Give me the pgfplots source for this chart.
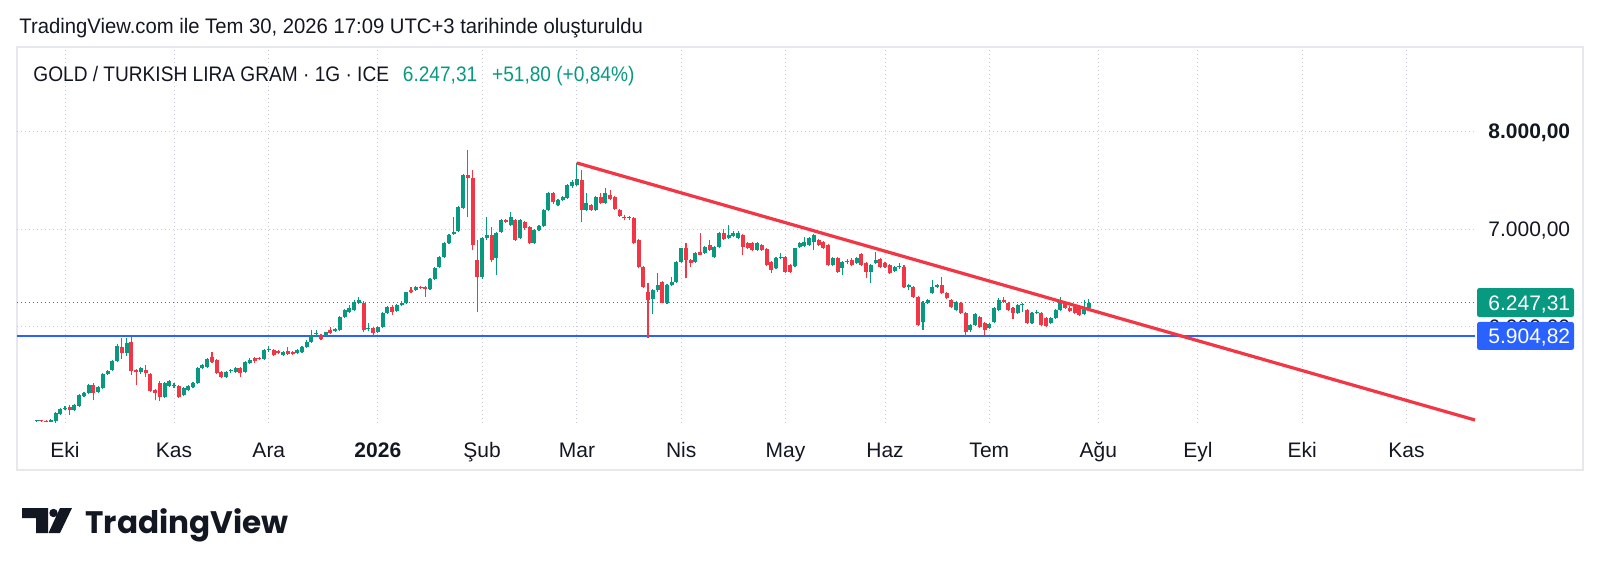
\documentclass[border=0pt]{standalone}
\usepackage{fontspec}
\setmainfont{Liberation Sans}
\newfontfamily\hdfont{Liberation Sans}[FakeStretch=0.91]
\newfontfamily\ttlfont{Liberation Sans}[FakeStretch=0.965]
\newfontfamily\logofont{Poppins}
\usepackage{pgfplots}
\pgfplotsset{compat=1.18}
\usepackage{pgfplotstable}
\definecolor{tvgreen}{HTML}{089981}
\definecolor{tvred}{HTML}{F23645}
\definecolor{tvblue}{HTML}{2962FF}
\definecolor{tvtext}{HTML}{131722}
\definecolor{tvgrid}{HTML}{C8CBD3}
\definecolor{tvborder}{HTML}{E6E8EE}

% i = trading-day index (0 = 1 Oct 2025), o h l c in TRY per gram
\pgfplotstableread{
i o h l c
-6 5035 5045 5028 5040
-5 5040 5048 5025 5030
-4 5030 5040 5022 5028
-3 5028 5050 5020 5040
-2 5030 5125 5015 5116
-1 5110 5170 5100 5157
0 5160 5190 5150 5167
1 5177 5195 5096 5147
2 5147 5210 5140 5198
3 5187 5310 5180 5300
4 5290 5335 5280 5320
5 5320 5410 5310 5403
6 5403 5420 5249 5320
7 5331 5395 5320 5382
8 5372 5525 5360 5515
9 5515 5560 5505 5546
10 5556 5660 5545 5648
11 5648 5820 5640 5802
12 5792 5884 5669 5730
13 5730 5884 5700 5832
14 5843 5894 5505 5546
15 5556 5570 5403 5536
16 5536 5590 5520 5577
17 5556 5607 5484 5525
18 5515 5530 5330 5341
19 5351 5360 5249 5320
20 5423 5440 5239 5280
21 5280 5435 5270 5423
22 5392 5455 5385 5443
23 5392 5420 5370 5396
24 5392 5400 5270 5280
25 5300 5380 5290 5372
26 5351 5400 5340 5392
27 5382 5435 5370 5423
28 5423 5590 5410 5577
29 5577 5620 5570 5607
30 5587 5675 5580 5669
31 5690 5741 5630 5638
32 5659 5665 5515 5525
33 5536 5545 5470 5484
34 5484 5545 5475 5536
35 5546 5570 5530 5550
36 5536 5585 5525 5577
37 5577 5585 5484 5525
38 5536 5645 5525 5638
39 5628 5675 5620 5659
40 5679 5690 5630 5648
41 5679 5690 5660 5669
42 5669 5770 5660 5761
43 5765 5802 5740 5772
44 5761 5775 5700 5710
45 5751 5760 5720 5730
46 5710 5750 5700 5741
47 5751 5792 5710 5720
48 5741 5750 5710 5720
49 5730 5770 5720 5761
50 5741 5800 5730 5792
51 5792 5860 5780 5843
52 5843 5966 5835 5904
53 5930 5966 5890 5935
54 5915 5925 5860 5874
55 5904 5950 5895 5945
56 5966 5996 5925 5935
57 5955 5990 5950 5976
58 5966 6110 5955 6099
59 6099 6180 6090 6171
60 6150 6222 6140 6191
61 6171 6273 6160 6252
62 6242 6300 6230 6273
63 6242 6262 5950 5966
64 5975 6037 5955 5990
65 5986 6000 5894 5935
66 5945 6005 5935 5996
67 5996 6150 5986 6140
68 6140 6210 6130 6201
69 6201 6222 6119 6150
70 6160 6235 6150 6222
71 6222 6260 6210 6242
72 6242 6360 6235 6355
73 6375 6406 6345 6355
74 6375 6415 6365 6406
75 6406 6420 6390 6400
76 6406 6420 6304 6386
77 6386 6495 6380 6488
78 6488 6610 6480 6601
79 6611 6720 6600 6713
80 6713 6865 6705 6857
81 6857 6945 6850 6939
82 6949 7123 6940 6969
83 6980 7235 6970 7225
84 7215 7560 7205 7553
85 7553 7809 7123 7522
86 7522 7604 6785 6836
87 6683 6887 6150 6508
88 6508 6920 6490 6908
89 6908 7123 6890 6939
90 6939 7020 6662 6683
91 6703 6970 6529 6959
92 6969 7100 6960 7092
93 7092 7105 7060 7072
94 7041 7174 7030 7123
95 7092 7100 6880 6887
96 6908 7100 6900 7092
97 7072 7085 6990 7010
98 7020 7030 6850 6857
99 6857 6995 6845 6990
100 6990 7040 6980 7031
101 7031 7200 7020 7195
102 7195 7380 7185 7369
103 7369 7380 7260 7276
104 7246 7310 7235 7297
105 7297 7340 7290 7328
106 7317 7460 7310 7451
107 7440 7500 7420 7481
108 7451 7676 7440 7512
109 7502 7604 7072 7195
110 7195 7369 7180 7266
111 7246 7260 7185 7195
112 7195 7340 7185 7328
113 7328 7369 7260 7266
114 7266 7420 7255 7369
115 7348 7399 7300 7307
116 7328 7340 7195 7205
117 7195 7205 7125 7133
118 7115 7140 7090 7110
119 7113 7135 7090 7118
120 7113 7125 6850 6857
121 6887 6900 6600 6611
122 6611 6625 6396 6406
123 6355 6447 5884 6273
124 6283 6385 6130 6375
125 6375 6549 6360 6427
126 6457 6470 6240 6242
127 6242 6440 6230 6427
128 6427 6508 6415 6457
129 6457 6670 6445 6662
130 6662 6810 6650 6805
131 6805 6857 6498 6683
132 6683 6695 6611 6652
133 6662 6760 6650 6754
134 6764 6959 6730 6734
135 6754 6825 6745 6816
136 6836 6887 6775 6785
137 6713 6830 6700 6816
138 6816 6965 6805 6959
139 6959 7000 6890 6898
140 6908 7041 6900 6939
141 6928 6980 6915 6959
142 6908 6975 6895 6959
143 6939 6950 6734 6816
144 6857 6870 6795 6805
145 6857 6870 6770 6785
146 6785 6870 6775 6857
147 6836 6850 6775 6785
148 6795 6805 6620 6631
149 6662 6675 6549 6580
150 6601 6710 6590 6703
151 6703 6754 6690 6713
152 6713 6725 6549 6560
153 6631 6640 6550 6560
154 6621 6810 6610 6805
155 6816 6865 6810 6857
156 6826 6918 6820 6867
157 6836 6920 6830 6908
158 6867 6945 6785 6939
159 6887 6900 6830 6836
160 6867 6880 6800 6805
161 6836 6845 6620 6631
162 6631 6710 6620 6703
163 6703 6715 6550 6560
164 6601 6675 6529 6662
165 6662 6690 6640 6665
166 6683 6700 6620 6631
167 6652 6710 6640 6703
168 6744 6754 6620 6631
169 6652 6665 6498 6560
170 6560 6640 6447 6631
171 6652 6764 6640 6683
172 6693 6705 6600 6611
173 6652 6665 6600 6611
174 6631 6645 6540 6549
175 6570 6625 6560 6611
176 6611 6650 6590 6621
177 6611 6630 6400 6406
178 6406 6440 6380 6427
179 6406 6416 6295 6304
180 6304 6315 6010 6017
181 6048 6260 5966 6242
182 6242 6285 6235 6273
183 6345 6478 6335 6406
184 6406 6440 6400 6427
185 6427 6508 6335 6345
186 6345 6355 6285 6293
187 6273 6285 6195 6201
188 6171 6262 6160 6252
189 6242 6250 6130 6140
190 6140 6150 5904 5945
191 5966 6025 5950 6017
192 6017 6135 6010 6129
193 6099 6110 5990 5996
194 6037 6045 5915 5966
195 5990 6040 5980 6027
196 6048 6200 6040 6191
197 6171 6290 6160 6273
198 6273 6304 6240 6252
199 6242 6255 6165 6171
200 6191 6200 6080 6140
201 6140 6235 6130 6222
202 6222 6240 6150 6225
203 6171 6180 6030 6037
204 6037 6150 6025 6140
205 6140 6170 6125 6150
206 6140 6150 6005 6017
207 6089 6095 5995 6007
208 6037 6095 6025 6089
209 6089 6180 6080 6171
210 6171 6300 6160 6273
211 6242 6255 6180 6191
212 6191 6215 6150 6160
213 6201 6215 6130 6140
214 6191 6205 6110 6119
215 6130 6270 6120 6195.51
216 6195.51 6283 6170 6247.31
}\candles

\pgfplotsset{candle/.style={only marks, mark=*, mark size=0pt,
  mark options={draw=none, fill=none}, forget plot}}

\begin{document}
\begin{tikzpicture}
\useasboundingbox (0,0) rectangle (800pt,-286.5pt);
\fill[white] (0,0) rectangle (800pt,-286.5pt);
\draw[tvborder, line width=0.6pt] (8.5pt,-23.5pt) rectangle (791.5pt,-235pt);
\begin{axis}[
  at={(8.5pt,-23.5pt)}, anchor=north west,
  scale only axis, width=729pt, height=188pt,
  xmin=-10.13, xmax=297.47, ymin=5013.5, ymax=8863.7,
  axis line style={draw=none},
  major tick length=0pt,
  xtick={0,23,43,66,88,108,130,152,173,195,218,239,261,283},
  xticklabels={Eki,Kas,Ara,\textbf{2026},Şub,Mar,Nis,May,Haz,Tem,Ağu,Eyl,Eki,Kas},
  xticklabel style={anchor=base, yshift=-17pt, inner sep=0pt},
  ytick={6000,7000,8000},
  yticklabels={{6.000,00},{7.000,00},{\textbf{8.000,00}}},
  yticklabel pos=right,
  yticklabel style={anchor=base west, xshift=6.5pt, yshift=-3.75pt, inner sep=0pt},
  tick label style={font=\fontsize{10.5pt}{12pt}\selectfont, text=tvtext},
  grid=major,
  grid style={tvgrid, line width=0.5pt, dash pattern=on 0.5pt off 1.5pt},
  clip=false,
]
% support line and last price line
\addplot[tvblue, line width=1.1pt, forget plot] coordinates {(-10.13,5904.82) (297.47,5904.82)};
\addplot[tvgreen, line width=0.5pt, dash pattern=on 0.6pt off 1.4pt, forget plot] coordinates {(-10.13,6247.31) (297.47,6247.31)};
% wicks
\addplot[candle,
  error bars/.cd, y dir=plus, y explicit, error mark=none,
  error bar style={draw=tvgreen, line width=0.55pt}]
  table[x=i, y=l, y error plus expr={(\thisrow{c}>=\thisrow{o}) ? (\thisrow{h}-\thisrow{l}) : 0}] {\candles};
\addplot[candle,
  error bars/.cd, y dir=plus, y explicit, error mark=none,
  error bar style={draw=tvred, line width=0.55pt}]
  table[x=i, y=l, y error plus expr={(\thisrow{c}<\thisrow{o}) ? (\thisrow{h}-\thisrow{l}) : 0}] {\candles};
% bodies
\addplot[candle,
  error bars/.cd, y dir=plus, y explicit, error mark=none,
  error bar style={draw=tvgreen, line width=2pt}]
  table[x=i, y=o, y error plus expr={(\thisrow{c}>=\thisrow{o}) ? max(\thisrow{c}-\thisrow{o},10) : 0}] {\candles};
\addplot[candle,
  error bars/.cd, y dir=plus, y explicit, error mark=none,
  error bar style={draw=tvred, line width=2pt}]
  table[x=i, y=c, y error plus expr={(\thisrow{c}<\thisrow{o}) ? max(\thisrow{o}-\thisrow{c},10) : 0}] {\candles};
% trend line
\addplot[tvred, line width=1.6pt, forget plot] coordinates {(108,7676) (297.47,5044)};
\coordinate (pg) at (axis cs:297.47,6247.31);
\coordinate (pb) at (axis cs:297.47,5904.82);
\end{axis}
% price labels on the scale
\fill[tvgreen, rounded corners=1.2pt] ([xshift=1pt,yshift=7.25pt]pg) rectangle ([xshift=49.5pt,yshift=-7.25pt]pg);
\node[anchor=base west, inner sep=0pt, text=white, font=\fontsize{10.5pt}{12pt}\selectfont] at ([xshift=6.5pt,yshift=-3.75pt]pg) {6.247,31};
\fill[tvblue, rounded corners=1.2pt] ([xshift=1pt,yshift=7pt]pb) rectangle ([xshift=49.5pt,yshift=-7pt]pb);
\node[anchor=base west, inner sep=0pt, text=white, font=\fontsize{10.5pt}{12pt}\selectfont] at ([xshift=6.5pt,yshift=-3.75pt]pb) {5.904,82};
\begin{scope}[x=0.5pt, y=-0.5pt]
\node[anchor=base west, inner sep=0pt, text=tvtext, font=\ttlfont\fontsize{10.5pt}{12pt}\selectfont] at (19,33) {TradingView.com ile Tem 30, 2026 17:09 UTC+3 tarihinde oluşturuldu};
\node (hd) [anchor=base west, inner sep=0pt, text=tvtext, font=\hdfont\fontsize{10.5pt}{12pt}\selectfont] at (33,81) {GOLD / TURKISH LIRA GRAM · 1G · ICE};
\node (pr) [anchor=base west, inner sep=0pt, text=tvgreen, font=\hdfont\fontsize{10.5pt}{12pt}\selectfont] at ([xshift=6.5pt]hd.base east) {6.247,31};
\node[anchor=base west, inner sep=0pt, text=tvgreen, font=\hdfont\fontsize{10.5pt}{12pt}\selectfont] at ([xshift=7pt]pr.base east) {+51,80 (+0,84\%)};
% TradingView logo
\fill[tvtext] (22,508) -- (48,508) -- (48,533) -- (36,533) -- (36,518) -- (22,518) -- cycle;
\fill[tvtext] (53.5,513) circle[radius=4.2];
\fill[tvtext] (60,508) -- (72,508) -- (60,533) -- (48.5,533) -- cycle;
\node[anchor=base west, inner sep=0pt, text=tvtext] at (85,533) {\resizebox{101.5pt}{!}{\logofont\bfseries TradingView}};
\end{scope}
\end{tikzpicture}
\end{document}
